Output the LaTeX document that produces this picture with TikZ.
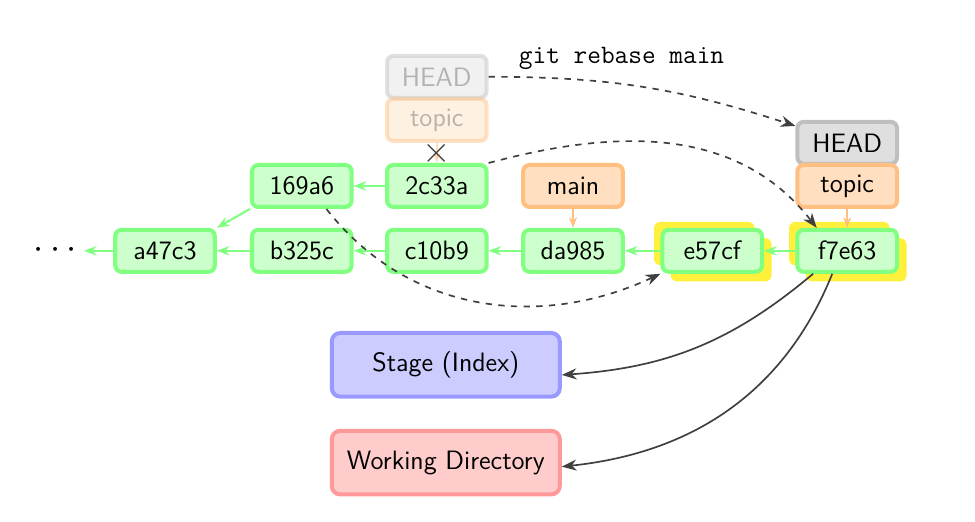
\documentclass[tikz,border=0pt]{standalone}
\usetikzlibrary{arrows.meta}
\definecolor{shadowyellow}{HTML}{FFF03C}
\begin{document}
\begin{tikzpicture}[
  every node/.style={font=\sffamily\fontsize{12.6}{15}\selectfont},
  commit/.style={draw=green!50, fill=green!20, line width=1.9pt, rounded corners=3pt, minimum width=1.66cm, minimum height=0.7cm},
  branch/.style={commit, draw=orange!50, fill=orange!25},
  headref/.style={commit, draw=gray!50, fill=gray!25},
  area/.style={draw=#1!40, fill=#1!20, line width=1.9pt, rounded corners=4pt, minimum width=3.8cm, minimum height=1.06cm},
  faded/.style={opacity=0.45},
  parent/.style={draw=green!50, line width=1pt, -{Stealth[length=6pt]}},
  points/.style={draw=orange!50, line width=1pt, -{Stealth[length=5pt]}},
  move/.style={draw=black!75, thick, dashed, -{Stealth[length=7pt]}},
  reset/.style={draw=black!75, thick, -{Stealth[length=7pt]}},
  yshadow/.style={fill=shadowyellow, rounded corners=3pt, minimum width=1.68cm, minimum height=0.72cm},
]
\useasboundingbox (0,0) rectangle (16.25,-8.7);

% rebased commits get a yellow shadow
\node[yshadow] at (11.74,-4.06) {};
\node[yshadow] at (12.02,-4.33) {};
\node[yshadow] at (13.99,-4.06) {};
\node[yshadow] at (14.27,-4.33) {};

\node[font=\LARGE] (dots) at (0.92,-4.18) {$\cdots$};
\node[commit] (a47c3) at (2.75,-4.18) {a47c3};
\node[commit] (b325c) at (5.03,-4.18) {b325c};
\node[commit] (c10b9) at (7.28,-4.18) {c10b9};
\node[commit] (da985) at (9.55,-4.18) {da985};
\node[commit] (e57cf) at (11.87,-4.18) {e57cf};
\node[commit] (f7e63) at (14.12,-4.18) {f7e63};
\node[commit] (169a6) at (5.03,-3.10) {169a6};
\node[commit] (2c33a) at (7.28,-3.10) {2c33a};

\node[branch] (main) at (9.55,-3.10) {main};

% before the rebase
\node[headref, faded, text=black!60] (oldhead) at (7.28,-1.28) {HEAD};
\node[branch, faded, text=black!60] (oldtopic) at (7.28,-2.0) {topic};
% after the rebase
\node[headref] (newhead) at (14.12,-2.38) {HEAD};
\node[branch] (newtopic) at (14.12,-3.10) {topic};

\node[area=blue] (stage) at (7.43,-6.08) {Stage (Index)};
\node[area=red] (wd) at (7.43,-7.71) {Working Directory};

\draw[parent] (a47c3) -- (dots);
\draw[parent] (b325c) -- (a47c3);
\draw[parent] (c10b9) -- (b325c);
\draw[parent] (da985) -- (c10b9);
\draw[parent] (e57cf) -- (da985);
\draw[parent] (f7e63) -- (e57cf);
\draw[parent] (2c33a) -- (169a6);
\draw[parent] (169a6.south west) -- (a47c3.north east);

\draw[points] (main) -- (da985);
\draw[points] (newtopic) -- (f7e63);
\draw[points, faded] (oldtopic) -- (2c33a)
  node[midway, opacity=1, inner sep=0pt, text=black!75, font=\LARGE] (cut) {$\times$};

\draw[move] (oldhead.east) to[out=0, in=162]
  node[pos=0.42, above=3pt, font=\ttfamily\fontsize{12.6}{15}\selectfont, text=black] (cmd) {git rebase main} (newhead.162);
\draw[move] (2c33a.north east) to[out=15, in=128] (f7e63.143);
\draw[move] (169a6.317) to[out=-52, in=205] (e57cf.south west);

\draw[reset] (f7e63.214) to[out=-140, in=4] (stage.-5);
\draw[reset] (f7e63.237) to[out=-112, in=6] (wd.-2);
\end{tikzpicture}
\end{document}
